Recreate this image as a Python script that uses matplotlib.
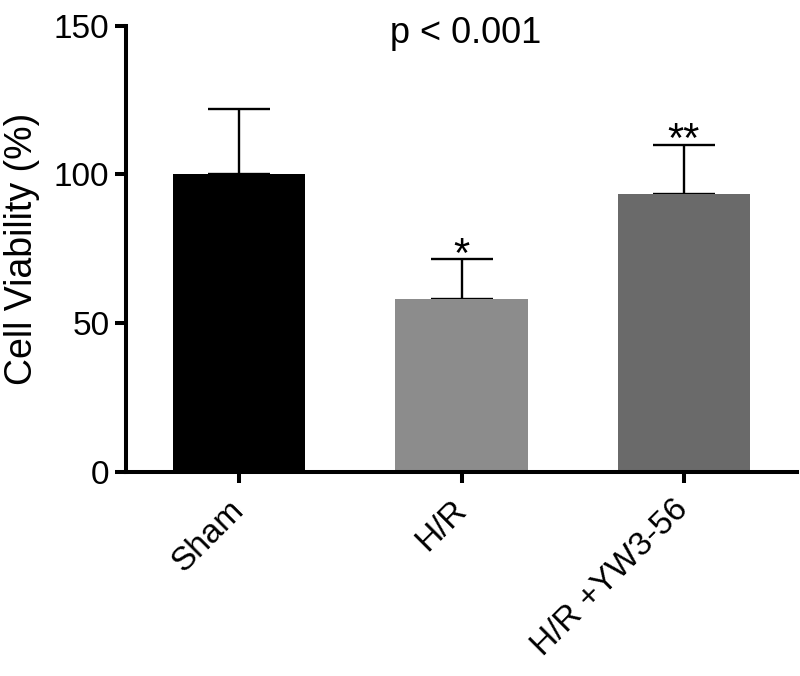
import matplotlib
matplotlib.use("Agg")
import matplotlib.pyplot as plt

plt.rcParams['font.family'] = ['Liberation Sans', 'DejaVu Sans']

groups = ['Sham', 'H/R', 'H/R +YW3-56']
viability = [100.0, 58.0, 93.5]
sd = [22.0, 13.5, 16.5]
stars = ['', '*', '**']
colors = ['#000000', '#8c8c8c', '#6a6a6a']

fig = plt.figure(figsize=(8, 6.76), dpi=100)
ax = fig.add_axes([0.1575, 0.3022, 0.8388, 0.6598])

x = range(len(groups))
ax.bar(x, viability, width=0.595, color=colors, zorder=2)
ax.errorbar(x, viability, yerr=[[0] * len(sd), sd], fmt='none',
            ecolor='black', elinewidth=1.7, capsize=22, capthick=1.7, zorder=1)

# significance marks just above the caps
for i, s in enumerate(stars):
    if s:
        ax.text(i, viability[i] + sd[i] - 2.5, s, ha='center', va='baseline',
                fontsize=30)

ax.set_xlim(-0.51, 2.51)
ax.set_ylim(0, 150)
ax.set_yticks([0, 50, 100, 150])
ax.set_xticks(list(x))
ax.set_xticklabels(groups, rotation=45, ha='right', va='center',
                   rotation_mode='anchor')
ax.tick_params(axis='both', labelsize=24, width=2.9, length=8)
ax.tick_params(axis='x', pad=16)
ax.tick_params(axis='y', pad=4)
ax.set_ylabel('Cell Viability (%)', fontsize=27, labelpad=10)
ax.text(1.02, 144.2, 'p < 0.001', ha='center', va='baseline', fontsize=26)

for side in ['top', 'right']:
    ax.spines[side].set_visible(False)
for side in ['left', 'bottom']:
    ax.spines[side].set_linewidth(2.9)

fig.savefig('out.png', dpi=100)
